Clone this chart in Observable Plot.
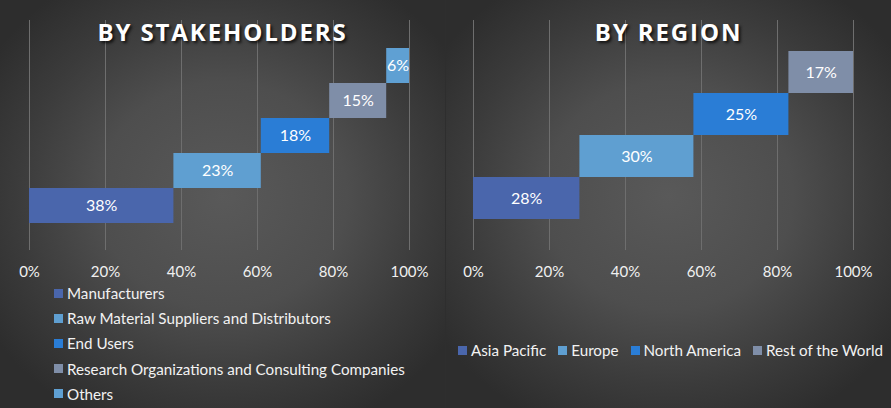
<!DOCTYPE html>
<html><head><meta charset="utf-8">
<script src="https://cdn.jsdelivr.net/npm/d3@7"></script>
<script src="https://cdn.jsdelivr.net/npm/@observablehq/plot@0.6"></script>
<style>
body{margin:0;background:#2e2e2e;}
#wrap{position:relative;width:891px;height:408px;overflow:hidden;font-family:Lato,sans-serif;}
.panel{position:absolute;top:0;height:408px;overflow:hidden;background:radial-gradient(ellipse 62% 62% at 50% 48%, #595959 0%, #4e4e4e 45%, #3b3b3b 75%, #2d2d2d 100%);}
.title{position:absolute;left:0;right:0;top:12px;line-height:40px;text-align:center;font-family:'Open Sans',sans-serif;font-weight:700;font-size:24px;letter-spacing:1.9px;color:#fff;text-shadow:2px 2px 3px rgba(0,0,0,.75);z-index:2;}
.plot{position:absolute;left:0;top:0;}
.plot svg g[aria-label="bar"] rect{filter:drop-shadow(2px 2px 2px rgba(0,0,0,.45));}
.lg{position:absolute;display:flex;align-items:center;color:#f2f2f2;font-size:15.2px;white-space:nowrap;}
.sw{width:9px;height:9px;margin-right:4px;flex:none;}
</style></head>
<body><div id="wrap"></div>
<script>
const stakeCats = ["Manufacturers","Raw Material Suppliers and Distributors","End Users","Research Organizations and Consulting Companies","Others"];
const stakeVals = [38,23,18,15,6];
const stakeColors = ["#4a66ac","#5f9fd1","#2a7dd6","#7f8ea8","#5fa0d3"];
const regionCats = ["Asia Pacific","Europe","North America","Rest of the World"];
const regionVals = [28,30,25,17];
const regionColors = ["#4a66ac","#5f9fd1","#2a7dd6","#7f8ea8"];
const xTicks = [0,20,40,60,80,100];
const titles = ["BY STAKEHOLDERS","BY REGION"];

function makePlot(cats, vals, colors, ml, mr, yRange){
  const ends = d3.cumsum(vals);
  const rows = cats.map((c,i)=>({cat:c, v:vals[i], x1:ends[i]-vals[i], x2:ends[i]}));
  return Plot.plot({
    width:445, height:290, marginTop:20, marginBottom:40, marginLeft:ml, marginRight:mr,
    style:{background:"transparent", color:"#f0f0f0", fontSize:"15px", fontFamily:"Lato, sans-serif"},
    x:{domain:[0,100]},
    y:{type:"band", domain:cats.slice().reverse(), range:yRange, padding:0, axis:null},
    color:{domain:cats, range:colors},
    marks:[
      Plot.ruleX(xTicks,{stroke:"#6e6e6e", strokeWidth:1}),
      Plot.axisX({ticks:xTicks, tickSize:0, tickPadding:16, tickFormat:d=>d+"%", fill:"#f0f0f0", fontSize:15}),
      Plot.barX(rows,{x1:"x1", x2:"x2", y:"cat", fill:"cat"}),
      Plot.text(rows,{x:d=>(d.x1+d.x2)/2, y:"cat", text:d=>d.v+"%", fill:"#ffffff", fontSize:16})
    ]
  });
}

const wrap = document.getElementById("wrap");
function panel(left, width){
  const p = document.createElement("div");
  p.className = "panel"; p.style.left = left+"px"; p.style.width = width+"px";
  wrap.appendChild(p); return p;
}
const p1 = panel(0,445), p2 = panel(446,445);
[p1,p2].forEach((p,i)=>{
  const t = document.createElement("div"); t.className="title"; t.textContent = titles[i]; p.appendChild(t);
});
const s1 = makePlot(stakeCats, stakeVals, stakeColors, 29, 36, [46,225]);
s1.classList.add("plot"); p1.appendChild(s1);
const s2 = makePlot(regionCats, regionVals, regionColors, 27, 38, [50,219]);
s2.classList.add("plot"); p2.appendChild(s2);

// left legend (vertical)
stakeCats.forEach((c,i)=>{
  const d = document.createElement("div"); d.className="lg";
  d.style.left="54px"; d.style.top=(284+i*25.2)+"px"; d.style.height="18px";
  d.innerHTML = `<span class="sw" style="background:${stakeColors[i]}"></span><span></span>`;
  d.lastChild.textContent = c; p1.appendChild(d);
});
// right legend (horizontal)
const rl = document.createElement("div"); rl.className="lg";
rl.style.left=(458-446)+"px"; rl.style.top="341px"; rl.style.height="18px";
regionCats.forEach((c,i)=>{
  const sw = document.createElement("span"); sw.className="sw"; sw.style.background=regionColors[i];
  const tx = document.createElement("span"); tx.textContent=c; tx.style.marginRight = i<regionCats.length-1 ? "12px":"0";
  rl.appendChild(sw); rl.appendChild(tx);
});
p2.appendChild(rl);
</script></body></html>
